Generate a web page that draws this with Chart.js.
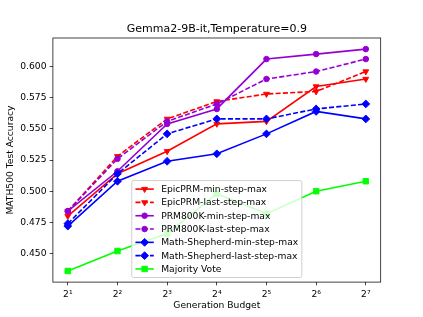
<!DOCTYPE html>
<html>
<head>
<meta charset="utf-8">
<script src="https://cdn.jsdelivr.net/npm/chart.js"></script>
<style>
  html, body { margin: 0; padding: 0; background: #fff; }
  canvas { display: block; }
</style>
</head>
<body>
<canvas id="chart" width="423" height="317"></canvas>
<script>
// Data.
const budgets = [2, 4, 8, 16, 32, 64, 128];
const xTickLabels = ['2¹', '2²', '2³', '2⁴', '2⁵', '2⁶', '2⁷'];
const yTicks = [0.450, 0.475, 0.500, 0.525, 0.550, 0.575, 0.600];

const epicMin   = [0.480, 0.514, 0.532, 0.554, 0.556, 0.584, 0.590];
const epicLast  = [0.484, 0.528, 0.558, 0.572, 0.578, 0.580, 0.596];
const prmMin    = [0.484, 0.516, 0.554, 0.566, 0.606, 0.610, 0.614];
const prmLast   = [0.484, 0.526, 0.556, 0.570, 0.590, 0.596, 0.606];
const shepMin   = [0.472, 0.508, 0.524, 0.530, 0.546, 0.564, 0.558];
const shepLast  = [0.474, 0.514, 0.546, 0.558, 0.558, 0.566, 0.570];
const majority  = [0.436, 0.452, 0.466, 0.498, 0.482, 0.500, 0.508];

const title = 'Gemma2-9B-it,Temperature=0.9';
const xTitle = 'Generation Budget';
const yTitle = 'MATH500 Test Accuracy';

// matplotlib points -> pixels for this figure size
const PT = 423 / 6.4 / 72;
const FONT = '"DejaVu Sans", sans-serif';

// Marker / line styles per series (matplotlib look).
const MARK = {
  tri:  { pointStyle: 'triangle', pointRotation: 180, pointRadius: 3.4 },
  dot:  { pointStyle: 'circle',   pointRotation: 0,   pointRadius: 2.8 },
  dia:  { pointStyle: 'rectRot',  pointRotation: 0,   pointRadius: 3.9 },
  sq:   { pointStyle: 'rect',     pointRotation: 0,   pointRadius: 3.9 },
};
const DASH = [3.7 * 1.5 * PT, 1.6 * 1.5 * PT];

function series(label, data, color, mark, dashed) {
  return Object.assign({
    label,
    data: data.map((v, i) => ({ x: budgets[i], y: v })),
    borderColor: color,
    backgroundColor: color,
    pointBackgroundColor: color,
    pointBorderColor: color,
    pointBorderWidth: 1 * PT,
    borderWidth: 1.6,
    borderDash: dashed ? DASH : [],
    tension: 0,
    fill: false,
  }, MARK[mark]);
}

const datasets = [
  series('EpicPRM-min-step-max',       epicMin,  '#ff0000', 'tri', false),
  series('EpicPRM-last-step-max',      epicLast, '#ff0000', 'tri', true),
  series('PRM800K-min-step-max',       prmMin,   '#9400d3', 'dot', false),
  series('PRM800K-last-step-max',      prmLast,  '#9400d3', 'dot', true),
  series('Math-Shepherd-min-step-max', shepMin,  '#0000ff', 'dia', false),
  series('Math-Shepherd-last-step-max',shepLast, '#0000ff', 'dia', true),
  series('Majority Vote',              majority, '#00ff00', 'sq',  false),
];
// later series on top, like matplotlib
datasets.forEach((d, i) => { d.order = datasets.length - i; });

// axis limits with matplotlib's 5% margins
const allY = [].concat(epicMin, epicLast, prmMin, prmLast, shepMin, shepLast, majority);
const yLo = Math.min(...allY), yHi = Math.max(...allY);
const yPad = (yHi - yLo) * 0.05;
const xLo = Math.log2(budgets[0]), xHi = Math.log2(budgets[budgets.length - 1]);
const xPad = (xHi - xLo) * 0.05;

// Frame, title and legend in matplotlib style.
const mplDecor = {
  id: 'mplDecor',
  afterDatasetsDraw(chart) {
    const { ctx, chartArea: a } = chart;
    ctx.save();
    // axes frame
    ctx.strokeStyle = '#000';
    ctx.lineWidth = 0.8 * PT;
    ctx.strokeRect(a.left, a.top, a.right - a.left, a.bottom - a.top);

    // title
    ctx.fillStyle = '#000';
    ctx.font = (12 * PT) + 'px ' + FONT;
    ctx.textAlign = 'center';
    ctx.textBaseline = 'alphabetic';
    ctx.fillText(title, (a.left + a.right) / 2, a.top - 6 * PT);

    // legend (lower center)
    const fs = 10 * PT;
    ctx.font = fs + 'px ' + FONT;
    const sets = chart.data.datasets;
    const pad = 0.4 * fs, handle = 2 * fs, gap = 0.8 * fs;
    const step = 1.45 * fs, edge = 0.93 * fs;
    const maxW = Math.max(...sets.map(d => ctx.measureText(d.label).width));
    const w = pad + handle + gap + maxW + pad;
    const h = 2 * edge + (sets.length - 1) * step;
    const left = (a.left + a.right) / 2 - w / 2;
    const top = a.bottom - 0.5 * fs - h;

    ctx.beginPath();
    ctx.roundRect(left, top, w, h, 2);
    ctx.fillStyle = 'rgba(255,255,255,0.8)';
    ctx.fill();
    ctx.strokeStyle = '#cccccc';
    ctx.lineWidth = 1 * PT;
    ctx.stroke();

    sets.forEach((d, i) => {
      const cy = top + edge + i * step;
      const x0 = left + pad, x1 = x0 + handle;
      ctx.strokeStyle = d.borderColor;
      ctx.lineWidth = d.borderWidth;
      ctx.setLineDash(d.borderDash);
      ctx.beginPath();
      ctx.moveTo(x0, cy);
      ctx.lineTo(x1, cy);
      ctx.stroke();
      ctx.setLineDash([]);
      ctx.fillStyle = d.pointBackgroundColor;
      ctx.strokeStyle = d.pointBorderColor;
      ctx.lineWidth = d.pointBorderWidth;
      Chart.helpers.drawPoint(ctx, {
        pointStyle: d.pointStyle, rotation: d.pointRotation,
        radius: d.pointRadius, borderWidth: d.pointBorderWidth,
      }, (x0 + x1) / 2, cy);
      ctx.fillStyle = '#000';
      ctx.textAlign = 'left';
      ctx.textBaseline = 'middle';
      ctx.fillText(d.label, x1 + gap, cy + 0.5);
    });
    ctx.restore();
  },
};

Chart.defaults.font.family = FONT;
Chart.defaults.color = '#000';

new Chart(document.getElementById('chart'), {
  type: 'line',
  data: { datasets },
  plugins: [mplDecor],
  options: {
    responsive: false,
    animation: false,
    events: [],
    layout: { padding: { top: 38, right: 42.3, left: 0, bottom: 0 } },
    plugins: { legend: { display: false }, title: { display: false }, tooltip: { enabled: false } },
    scales: {
      x: {
        type: 'logarithmic',
        min: Math.pow(2, xLo - xPad),
        max: Math.pow(2, xHi + xPad),
        afterBuildTicks: s => { s.ticks = budgets.map(v => ({ value: v })); },
        afterFit: s => { s.height = 34.9; },
        ticks: {
          autoSkip: false, maxRotation: 0, padding: 3.5 * PT + 1,
          font: { size: 10 * PT },
          callback: (v, i) => xTickLabels[i],
        },
        grid: { drawOnChartArea: false, drawTicks: true, tickLength: 3.5 * PT, color: '#000', lineWidth: 0.8 * PT },
        border: { display: false },
        title: { display: true, text: xTitle, font: { size: 10 * PT }, padding: { top: 0, bottom: 6.3 } },
      },
      y: {
        type: 'linear',
        min: yLo - yPad,
        max: yHi + yPad,
        afterBuildTicks: s => { s.ticks = yTicks.map(v => ({ value: v })); },
        afterFit: s => { s.width = 52.9; },
        ticks: {
          padding: 3.5 * PT,
          font: { size: 10 * PT },
          callback: v => v.toFixed(3),
        },
        grid: { drawOnChartArea: false, drawTicks: true, tickLength: 3.5 * PT, color: '#000', lineWidth: 0.8 * PT },
        border: { display: false },
        title: { display: true, text: yTitle, font: { size: 10 * PT }, padding: { top: 5.3, bottom: 0 } },
      },
    },
  },
});
</script>
</body>
</html>
